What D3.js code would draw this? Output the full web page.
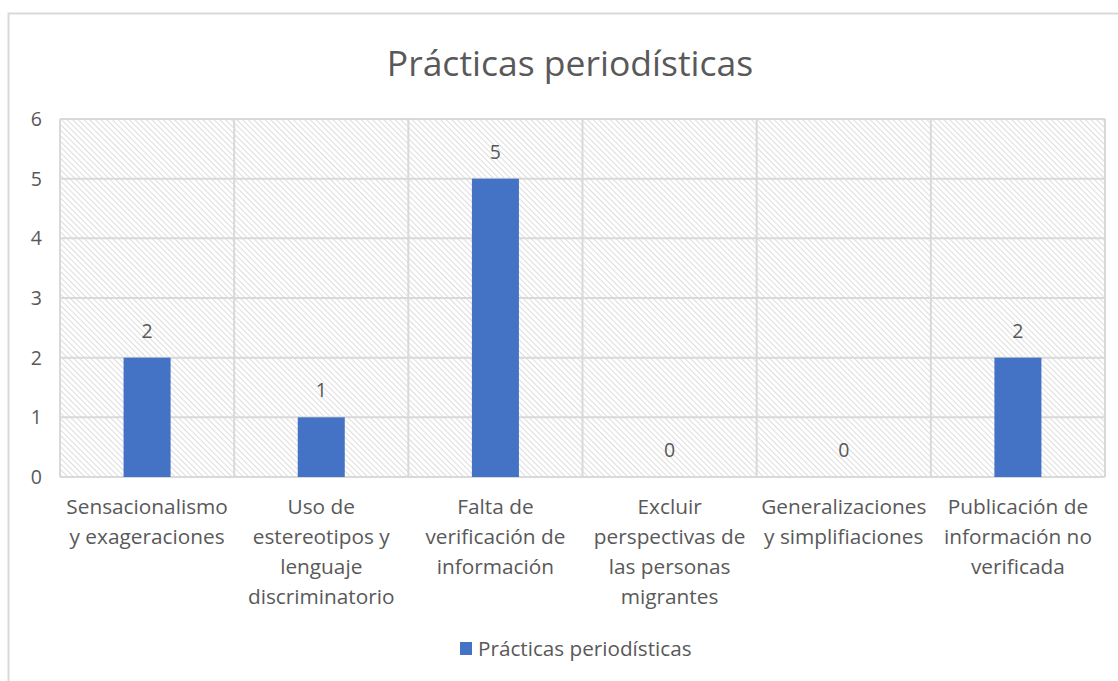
<!DOCTYPE html>
<html>
<head>
<meta charset="utf-8">
<script src="https://cdn.jsdelivr.net/npm/d3@7"></script>
<style>
  body { margin: 0; background: #fff; }
  svg text { font-family: "Open Sans", Lato, sans-serif; fill: #595959; }
</style>
</head>
<body>
<div id="chart"></div>
<script>
var categories = [
    ["Sensacionalismo", "y exageraciones"],
    ["Uso de", "estereotipos y", "lenguaje", "discriminatorio"],
    ["Falta de", "verificación de", "información"],
    ["Excluir", "perspectivas de", "las personas", "migrantes"],
    ["Generalizaciones", "y simplifiaciones"],
    ["Publicación de", "información no", "verificada"]
];
var values = [2, 1, 5, 0, 0, 2];
var yTicks = [0, 1, 2, 3, 4, 5, 6];
var seriesName = "Prácticas periodísticas";
var title = "Prácticas periodísticas";

var totalWidth = 1118, totalHeight = 681;
var margin = { top: 119, right: 13, bottom: 204, left: 60 };
var width = totalWidth - margin.left - margin.right,
    height = totalHeight - margin.top - margin.bottom;

var svg = d3.select("#chart").append("svg")
    .attr("width", totalWidth)
    .attr("height", totalHeight);

// hatch pattern for the plot area
var defs = svg.append("defs");
defs.append("pattern")
    .attr("id", "hatch")
    .attr("patternUnits", "userSpaceOnUse")
    .attr("width", 4)
    .attr("height", 4)
    .attr("patternTransform", "rotate(-45)")
    .append("line")
    .attr("x1", 0).attr("y1", 0)
    .attr("x2", 0).attr("y2", 4)
    .attr("stroke", "#d4d4d4")
    .attr("stroke-width", 1.6);

// chart frame
svg.append("rect")
    .attr("x", 8.5).attr("y", 13.5)
    .attr("width", 1130).attr("height", 700)
    .attr("fill", "none")
    .attr("stroke", "#d9d9d9")
    .attr("stroke-width", 2);

svg.append("text")
    .attr("x", 570).attr("y", 76)
    .attr("text-anchor", "middle")
    .style("font-size", "35.5px")
    .text(title);

var g = svg.append("g")
    .attr("transform", "translate(" + margin.left + "," + margin.top + ")");

var xScale = d3.scaleBand()
    .domain(d3.range(categories.length))
    .range([0, width])
    .paddingInner(0)
    .paddingOuter(0);

var yScale = d3.scaleLinear()
    .domain([0, 6])
    .range([height, 0]);

g.append("rect")
    .attr("width", width).attr("height", height)
    .attr("fill", "url(#hatch)");

// horizontal gridlines
g.selectAll(".hgrid")
    .data(yTicks)
    .enter()
    .append("line")
    .attr("x1", 0).attr("x2", width)
    .attr("y1", function (d) { return yScale(d); })
    .attr("y2", function (d) { return yScale(d); })
    .attr("stroke", "#d9d9d9")
    .attr("stroke-width", 2);

// vertical gridlines at category boundaries
g.selectAll(".vgrid")
    .data(d3.range(categories.length + 1))
    .enter()
    .append("line")
    .attr("x1", function (d) { return d < categories.length ? xScale(d) : width; })
    .attr("x2", function (d) { return d < categories.length ? xScale(d) : width; })
    .attr("y1", 0).attr("y2", height)
    .attr("stroke", "#d9d9d9")
    .attr("stroke-width", 2);

var barWidth = xScale.bandwidth() * 0.27;

g.selectAll(".bar")
    .data(values)
    .enter()
    .append("rect")
    .attr("x", function (d, i) { return xScale(i) + xScale.bandwidth() / 2 - barWidth / 2; })
    .attr("y", function (d) { return yScale(d); })
    .attr("width", barWidth)
    .attr("height", function (d) { return height - yScale(d); })
    .attr("fill", "#4472c4");

g.selectAll(".lbl")
    .data(values)
    .enter()
    .append("text")
    .attr("x", function (d, i) { return xScale(i) + xScale.bandwidth() / 2; })
    .attr("y", function (d) { return yScale(d) - 20; })
    .attr("text-anchor", "middle")
    .style("font-size", "19.5px")
    .text(function (d) { return d; });

// y axis labels
g.selectAll(".ytick")
    .data(yTicks)
    .enter()
    .append("text")
    .attr("x", -18)
    .attr("y", function (d) { return yScale(d) + 7; })
    .attr("text-anchor", "end")
    .style("font-size", "19.5px")
    .text(function (d) { return d; });

// category labels
var catG = g.selectAll(".cat")
    .data(categories)
    .enter()
    .append("text")
    .attr("text-anchor", "middle")
    .style("font-size", "20.8px");
catG.selectAll("tspan")
    .data(function (d, i) { return d.map(function (l) { return { line: l, i: i }; }); })
    .enter()
    .append("tspan")
    .attr("x", function (d) { return xScale(d.i) + xScale.bandwidth() / 2; })
    .attr("y", function (d, j) { return height + 37 + j * 30; })
    .text(function (d) { return d.line; });

// legend
var legend = svg.append("g").attr("transform", "translate(460,642)");
legend.append("rect")
    .attr("width", 12).attr("height", 13)
    .attr("fill", "#4472c4");
legend.append("text")
    .attr("x", 18).attr("y", 14)
    .style("font-size", "20.7px")
    .text(seriesName);
</script>
</body>
</html>
